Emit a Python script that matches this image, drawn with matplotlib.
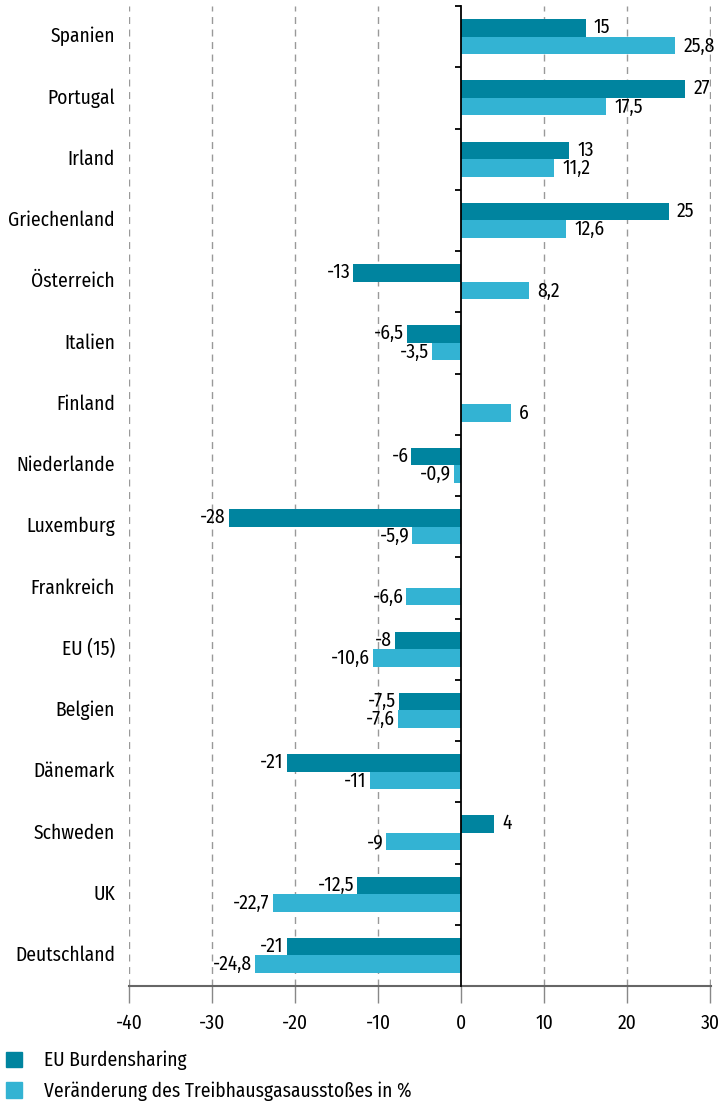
import numpy as np
import matplotlib.pyplot as plt
from matplotlib.patches import Patch
from matplotlib.transforms import blended_transform_factory

plt.rcParams['font.family'] = ['Fira Sans Condensed', 'DejaVu Sans']

countries = ['Spanien', 'Portugal', 'Irland', 'Griechenland', 'Österreich', 'Italien',
             'Finland', 'Niederlande', 'Luxemburg', 'Frankreich', 'EU (15)', 'Belgien',
             'Dänemark', 'Schweden', 'UK', 'Deutschland']
burden = [15, 27, 13, 25, -13, -6.5, None, -6, -28, None, -8, -7.5, -21, 4, -12.5, -21]
change = [25.8, 17.5, 11.2, 12.6, 8.2, -3.5, 6, -0.9, -5.9, -6.6, -10.6, -7.6, -11, -9, -22.7, -24.8]
xticks = [-40, -30, -20, -10, 0, 10, 20, 30]

DARK = '#00849f'
LIGHT = '#33b3d3'
FS = 14

def fmt(v):
    return ('%g' % v).replace('.', ',')

fig = plt.figure(figsize=(7.23, 11.06), dpi=100)
ax = fig.add_axes([129 / 723, 1 - 986 / 1106, 582 / 723, 980 / 1106])

n = len(countries)
y = np.arange(n)
h = 0.285

for i in range(n):
    for val, off, col in ((burden[i], -h / 2, DARK), (change[i], h / 2, LIGHT)):
        if val is None:
            continue
        ax.barh(y[i] + off, val, height=h, color=col, zorder=3)
        gap = 1.0 if val >= 0 else -0.35
        ax.text(val + gap, y[i] + off * 1.05, fmt(val), ha='left' if val >= 0 else 'right',
                va='center', fontsize=FS, zorder=4)

ax.set_xlim(-40, 30.1)
ax.set_ylim(n - 0.5, -0.5)
ax.set_xticks(xticks)
ax.set_xticklabels([str(t) for t in xticks], fontsize=FS)
ax.tick_params(axis='x', length=12, color='#888888', width=1, pad=8)

for t in xticks:
    if t != 0:
        ax.axvline(t, color='#999999', ls=(0, (5, 4)), lw=1, zorder=1)

# y axis at zero with small ticks between the groups
ax.spines['left'].set_position(('data', 0))
ax.spines['left'].set_zorder(5)
ax.spines['left'].set_linewidth(1.3)
ax.set_yticks([])
ax.set_yticks(np.arange(n + 1) - 0.5, minor=True)
ax.tick_params(axis='y', which='minor', length=4, width=1.3, labelleft=False)
for s in ['top', 'right']:
    ax.spines[s].set_visible(False)
ax.spines['bottom'].set_color('#666666')
ax.spines['bottom'].set_linewidth(1.5)

tr = blended_transform_factory(fig.transFigure, ax.transData)
for i, c in enumerate(countries):
    ax.text(115 / 723, y[i], c, transform=tr, ha='right', va='center', fontsize=FS)

handles = [Patch(color=DARK, label='EU Burdensharing'),
           Patch(color=LIGHT, label='Veränderung des Treibhausgasausstoßes in %')]
fig.legend(handles=handles, loc='upper left', bbox_to_anchor=(0.0, 1 - 1045 / 1106),
           frameon=False, fontsize=FS, handlelength=0.85, handleheight=0.85,
           handletextpad=1.1, labelspacing=0.55, borderaxespad=0.0, borderpad=0.3)

fig.savefig('out.png', dpi=100)
